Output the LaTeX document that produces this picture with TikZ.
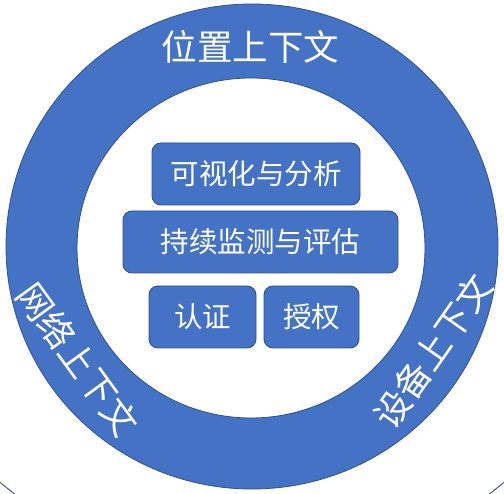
\documentclass[tikz,border=0pt]{standalone}
\usepackage{fontspec}
\newfontfamily\cjk{Noto Sans CJK SC}
\definecolor{ringblue}{HTML}{4472C4}
\definecolor{edgeblue}{HTML}{2F528F}
\begin{document}
\begin{tikzpicture}[x=1pt,y=-1pt,
  box/.style={draw=edgeblue,line width=0.9pt,fill=ringblue,rounded corners=9pt,
    text=white,inner sep=0pt,minimum height=62pt,font=\cjk\fontsize{28.5}{30}\selectfont},
  ringtxt/.style={text=white,inner sep=0pt,font=\cjk\fontsize{35.5}{36}\selectfont}]
\useasboundingbox (0,0) rectangle (504,494);
\clip (0,0) rectangle (504,494);
\fill[white] (0,0) rectangle (504,494);
% faint outer circle (mostly outside the picture)
\draw[edgeblue,line width=0.9pt] (252,182) circle (392pt);
% ring
\path[fill=ringblue,even odd rule,draw=edgeblue,line width=0.8pt]
  (252,246.5) ellipse [x radius=246pt,y radius=242.5pt]
  (251,248) ellipse [x radius=174pt,y radius=170pt];
% top label
\node[ringtxt] (loc) at (250.5,47) {位置上下文};
% left label
\node[ringtxt,rotate=-54] (net) at (78,359) {网络上下文};
% right label
\node[ringtxt,rotate=55] (dev) at (433,351) {设备上下文};
% boxes
\node[box,minimum width=208pt] (vis) at (256,174) {可视化与分析};
\node[box,minimum width=275pt] (mon) at (260.5,242) {持续监测与评估};
\node[box,minimum width=107pt] (authn) at (202.5,317) {认证};
\node[box,minimum width=95pt] (authz) at (311.5,317) {授权};
\end{tikzpicture}
\end{document}
